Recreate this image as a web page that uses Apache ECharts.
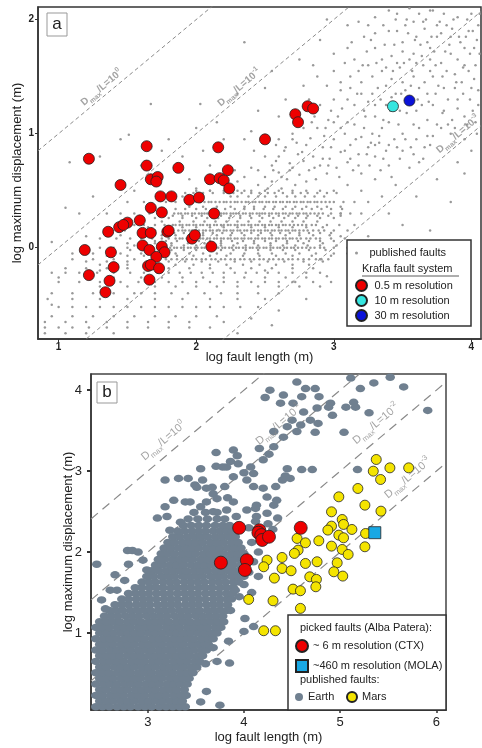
<!DOCTYPE html>
<html>
<head>
<meta charset="utf-8">
<script src="https://cdn.jsdelivr.net/npm/echarts@6/dist/echarts.min.js"></script>
<style>
  html, body { margin: 0; padding: 0; background: #fff; }
  #chart { width: 482px; height: 748px; }
</style>
</head>
<body>
<div id="chart"></div>
<script>
const FONT = "'Liberation Sans', Arial, Helvetica, sans-serif";

// ---- panel a: published faults (rounded displacements -> horizontal bands)
const bandY = [0.5, 0.48, 0.45, 0.4, 0.4, 0.36, 0.34, 0.3, 0.3, 0.28, 0.26, 0.23, 0.2, 0.2, 0.18, 0.15, 0.15, 0.13, 0.11, 0.08, 0.08, 0.06, 0.04, 0.02, 0, 0, -0.02, -0.05, -0.07, -0.1, -0.1, -0.12, -0.15, -0.18, -0.22, -0.26, -0.3, -0.34, -0.4, -0.45, -0.52, -0.6, -0.65, -0.7, -0.75];
const bandX = [
  [2.0, 2.1, 2.2, 2.3, 2.4, 2.5, 2.6, 2.7, 2.8, 2.9, 3.0],
  [1.92, 1.98, 2.05, 2.12, 2.2, 2.27, 2.33, 2.4, 2.46, 2.52, 2.57, 2.63, 2.7, 2.76, 2.81, 2.88, 2.95, 3.02],
  [2.3, 2.38, 2.45, 2.5, 2.58, 2.66, 2.72, 2.79, 2.86, 2.93],
  [1.5, 1.62, 1.78, 1.85, 1.93, 2.0, 2.06, 2.11, 2.17, 2.22, 2.28, 2.33, 2.38, 2.43, 2.48, 2.53, 2.58, 2.63, 2.68, 2.73, 2.78, 2.83, 2.88, 2.94, 3.0, 3.07, 3.15],
  [1.96, 2.03, 2.09, 2.14, 2.2, 2.25, 2.3, 2.36, 2.41, 2.46, 2.51, 2.56, 2.61, 2.66, 2.71, 2.76, 2.81, 2.86, 2.91, 2.97],
  [1.95, 2.05, 2.15, 2.25, 2.35, 2.42, 2.5, 2.57, 2.65, 2.72, 2.8, 2.88, 2.95, 3.05],
  [1.85, 1.92, 2.0, 2.07, 2.14, 2.21, 2.28, 2.35, 2.42, 2.49, 2.56, 2.63, 2.7, 2.77, 2.84, 2.91, 2.98, 3.06],
  [1.45, 1.55, 1.66, 1.72, 1.78, 1.84, 1.89, 1.94, 1.99, 2.04, 2.08, 2.13, 2.18, 2.22, 2.27, 2.31, 2.36, 2.41, 2.46, 2.5, 2.55, 2.6, 2.65, 2.7, 2.75, 2.8, 2.86, 2.92, 2.98, 3.05, 3.12, 3.2],
  [1.87, 1.92, 1.97, 2.02, 2.06, 2.11, 2.16, 2.2, 2.25, 2.29, 2.34, 2.39, 2.44, 2.48, 2.53, 2.58, 2.63, 2.68, 2.73, 2.78, 2.83, 2.89],
  [1.76, 1.83, 1.9, 1.97, 2.04, 2.11, 2.18, 2.25, 2.32, 2.39, 2.46, 2.53, 2.6, 2.67, 2.74, 2.81, 2.88, 2.96, 3.05],
  [1.7, 1.8, 1.9, 2.0, 2.08, 2.16, 2.24, 2.32, 2.4, 2.48, 2.56, 2.64, 2.72, 2.8, 2.9, 3.0],
  [1.6, 1.75, 1.88, 1.98, 2.06, 2.14, 2.22, 2.3, 2.38, 2.46, 2.54, 2.62, 2.7, 2.78, 2.88],
  [1.45, 1.55, 1.62, 1.7, 1.77, 1.83, 1.88, 1.93, 1.98, 2.03, 2.08, 2.13, 2.18, 2.23, 2.28, 2.33, 2.38, 2.43, 2.48, 2.53, 2.58, 2.63, 2.68, 2.74, 2.8, 2.87, 2.95, 3.04],
  [1.85, 1.9, 1.95, 2.0, 2.05, 2.1, 2.15, 2.2, 2.25, 2.3, 2.35, 2.4, 2.45, 2.5, 2.55, 2.6, 2.65, 2.71, 2.77, 2.84],
  [1.5, 1.65, 1.8, 1.9, 2.0, 2.1, 2.2, 2.3, 2.4, 2.5, 2.6, 2.7, 2.8, 2.92],
  [1.35, 1.48, 1.6, 1.7, 1.76, 1.82, 1.87, 1.92, 1.97, 2.02, 2.07, 2.12, 2.17, 2.22, 2.27, 2.32, 2.37, 2.42, 2.47, 2.52, 2.57, 2.62, 2.67, 2.72, 2.78, 2.85, 2.93, 3.0, 3.1],
  [1.9, 1.95, 2.0, 2.05, 2.1, 2.15, 2.2, 2.25, 2.3, 2.35, 2.4, 2.45, 2.5, 2.55, 2.6, 2.65, 2.7, 2.75, 2.81, 2.89],
  [1.7, 1.77, 1.84, 1.91, 1.98, 2.05, 2.12, 2.19, 2.26, 2.33, 2.4, 2.47, 2.54, 2.61, 2.68, 2.75, 2.82, 2.9, 2.98],
  [1.45, 1.62, 1.75, 1.85, 1.95, 2.05, 2.15, 2.25, 2.35, 2.45, 2.55, 2.65, 2.75, 2.85, 2.97],
  [1.3, 1.42, 1.52, 1.6, 1.68, 1.75, 1.8, 1.85, 1.9, 1.95, 2.0, 2.05, 2.1, 2.15, 2.2, 2.25, 2.3, 2.35, 2.4, 2.45, 2.5, 2.55, 2.6, 2.65, 2.7, 2.76, 2.83, 2.9, 2.98, 3.08],
  [1.88, 1.93, 1.98, 2.03, 2.08, 2.13, 2.18, 2.23, 2.28, 2.33, 2.38, 2.43, 2.48, 2.53, 2.58, 2.63, 2.68, 2.73, 2.8, 2.87],
  [1.62, 1.7, 1.78, 1.86, 1.94, 2.02, 2.1, 2.18, 2.26, 2.34, 2.42, 2.5, 2.58, 2.66, 2.74, 2.82, 2.9, 3.0],
  [1.5, 1.7, 1.82, 1.94, 2.06, 2.18, 2.3, 2.42, 2.54, 2.66, 2.78, 2.92],
  [1.55, 1.64, 1.73, 1.82, 1.91, 2.0, 2.09, 2.18, 2.27, 2.36, 2.45, 2.54, 2.63, 2.72, 2.81, 2.9, 3.02],
  [1.2, 1.3, 1.4, 1.5, 1.58, 1.65, 1.72, 1.78, 1.84, 1.89, 1.94, 1.99, 2.04, 2.09, 2.14, 2.19, 2.24, 2.29, 2.34, 2.39, 2.44, 2.49, 2.54, 2.59, 2.64, 2.69, 2.74, 2.8, 2.86, 2.93, 3.0, 3.1, 3.2],
  [1.81, 1.86, 1.91, 1.96, 2.01, 2.06, 2.11, 2.16, 2.21, 2.26, 2.31, 2.36, 2.41, 2.46, 2.51, 2.56, 2.61, 2.66, 2.71, 2.77, 2.83, 2.9],
  [1.4, 1.52, 1.63, 1.73, 1.82, 1.91, 2.0, 2.09, 2.18, 2.27, 2.36, 2.45, 2.54, 2.63, 2.72, 2.82, 2.94],
  [1.25, 1.45, 1.6, 1.75, 1.85, 1.95, 2.05, 2.15, 2.25, 2.35, 2.45, 2.55, 2.65, 2.75, 2.87, 3.0],
  [1.35, 1.5, 1.62, 1.74, 1.86, 1.98, 2.1, 2.22, 2.34, 2.46, 2.58, 2.7, 2.84, 2.98],
  [1.1, 1.25, 1.4, 1.55, 1.68, 1.78, 1.86, 1.93, 2.0, 2.07, 2.14, 2.21, 2.28, 2.35, 2.42, 2.49, 2.56, 2.63, 2.7, 2.78, 2.87, 2.96],
  [1.82, 1.9, 1.97, 2.04, 2.11, 2.18, 2.25, 2.32, 2.39, 2.46, 2.53, 2.6, 2.67, 2.74, 2.82, 2.91],
  [1.2, 1.35, 1.5, 1.65, 1.8, 1.92, 2.04, 2.16, 2.28, 2.4, 2.52, 2.64, 2.78, 2.92],
  [1.3, 1.5, 1.7, 1.85, 1.98, 2.1, 2.22, 2.34, 2.46, 2.58, 2.7, 2.82],
  [1.05, 1.2, 1.35, 1.5, 1.65, 1.8, 1.95, 2.1, 2.25, 2.4, 2.55, 2.7, 2.85],
  [0.95, 1.05, 1.15, 1.28, 1.4, 1.52, 1.62, 1.72, 1.8, 1.88, 1.96, 2.04, 2.12, 2.2, 2.28, 2.36, 2.44, 2.52, 2.6, 2.7, 2.8, 2.9],
  [1.0, 1.2, 1.4, 1.6, 1.75, 1.9, 2.05, 2.2, 2.35, 2.5, 2.65, 2.8],
  [1.15, 1.3, 1.45, 1.58, 1.7, 1.8, 1.9, 2.0, 2.1, 2.2, 2.3, 2.4, 2.5, 2.6, 2.72, 2.85, 2.98],
  [1.3, 1.5, 1.7, 1.85, 2.0, 2.15, 2.3, 2.45, 2.6, 2.75, 2.9],
  [0.95, 1.1, 1.25, 1.4, 1.55, 1.7, 1.82, 1.94, 2.06, 2.18, 2.3, 2.45, 2.6],
  [0.92, 1.1, 1.3, 1.5, 1.7, 1.9, 2.1, 2.3, 2.5],
  [1.0, 1.1, 1.2, 1.3, 1.4, 1.5, 1.6, 1.7, 1.8, 1.9, 2.0, 2.1, 2.2, 2.32, 2.45],
  [0.95, 1.1, 1.25, 1.4, 1.55, 1.7, 1.85, 2.0, 2.15],
  [0.9, 1.05, 1.2, 1.35, 1.5, 1.65, 1.8, 1.95],
  [0.9, 1.0, 1.1, 1.22, 1.35, 1.5, 1.65, 1.8, 1.95, 2.1],
  [0.9, 1.05, 1.2, 1.4]
];
const pubScatterA = [
  [2.45, 0.55], [2.5, 0.62], [2.55, 0.58], [2.6, 0.66], [2.62, 0.52], [2.66, 0.6], [2.7, 0.7], [2.72, 0.55], [2.75, 0.64], [2.78, 0.76],
  [2.8, 0.58], [2.82, 0.68], [2.85, 0.8], [2.87, 0.6], [2.9, 0.72], [2.92, 0.88], [2.95, 0.65], [2.97, 0.78], [3.0, 0.95], [3.02, 0.7],
  [3.05, 0.84], [3.08, 1.0], [3.1, 0.75], [3.12, 0.9], [3.15, 1.08], [3.18, 0.82], [3.2, 0.97], [2.55, 0.72], [2.6, 0.8], [2.65, 0.88],
  [2.68, 0.74], [2.73, 0.92], [2.77, 0.84], [2.83, 0.96], [2.88, 1.05], [2.93, 0.98], [2.96, 1.12], [3.03, 1.15], [3.06, 1.22], [3.1, 1.3],
  [2.5, 0.8], [2.58, 0.9], [2.7, 1.0], [2.78, 1.05], [2.86, 1.15], [2.6, 0.95], [2.9, 1.25], [3.0, 1.3], [2.4, 0.7], [2.35, 0.62],
  [2.42, 0.85], [2.3, 0.58], [3.25, 0.88], [3.28, 1.0], [3.3, 1.15], [3.22, 1.2], [3.35, 1.05], [3.33, 0.92], [3.38, 1.25], [3.4, 1.1],
  [3.45, 1.35], [3.48, 1.2], [3.5, 1.45], [3.55, 1.3], [3.58, 1.5], [3.6, 1.2], [3.62, 1.4], [3.65, 1.6], [3.68, 1.35], [3.7, 1.75],
  [3.72, 1.5], [3.75, 1.85], [3.78, 1.62], [3.8, 1.4], [3.82, 1.95], [3.85, 1.7], [3.88, 1.52], [3.9, 2.02], [3.92, 1.8], [3.95, 1.6],
  [3.98, 1.9], [4.0, 2.05], [4.02, 1.75], [4.05, 1.95], [3.2, 1.45], [3.25, 1.6], [3.3, 1.75], [3.35, 1.55], [3.4, 1.9], [3.42, 1.68],
  [3.45, 2.0], [3.5, 1.8], [3.52, 1.95], [3.55, 1.65], [3.6, 1.85], [3.62, 2.05], [3.65, 1.98], [3.68, 1.8], [3.72, 2.08], [3.75, 1.95],
  [3.8, 2.05], [3.12, 1.5], [3.05, 1.38], [3.15, 1.65], [3.28, 1.35], [3.38, 1.42], [3.48, 1.58], [3.58, 1.7], [3.7, 1.65], [3.85, 1.85],
  [3.95, 1.75], [3.3, 2.02], [3.4, 2.08], [3.55, 2.1], [3.22, 1.85], [3.1, 1.75], [3.0, 1.55], [2.95, 1.42], [3.18, 1.98], [3.2, 0.5],
  [3.3, 0.6], [3.4, 0.72], [3.5, 0.85], [3.55, 0.7], [3.6, 0.95], [3.7, 0.9], [3.75, 1.08], [3.8, 1.2], [3.85, 1.0], [3.9, 1.3],
  [3.95, 1.15], [4.0, 1.4], [4.05, 1.25], [3.45, 0.55], [3.35, 0.45], [3.25, 0.4], [3.65, 0.78], [3.62, 1.05], [3.5, 1.0], [3.4, 0.9],
  [3.3, 0.8], [3.72, 1.25], [3.88, 1.4], [3.98, 1.55], [4.03, 1.6], [3.6, 0.45], [3.75, 0.6], [3.9, 0.75], [4.0, 0.85], [3.5, 0.2],
  [3.85, 0.4], [3.95, 0.65], [3.7, 0.15], [3.4, 0.3], [3.15, 0.2], [3.25, 0.1], [3.05, 0.3], [2.0, 1.05], [2.15, 1.1], [2.3, 1.35],
  [2.55, 1.55], [2.75, 1.65], [2.9, 1.82], [2.65, 1.3], [2.45, 1.2], [2.35, 0.95], [2.2, 0.95], [2.05, 0.85], [2.1, 0.72], [1.95, 0.6],
  [1.9, 0.8], [2.4, 1.02], [2.6, 1.15], [2.78, 1.42], [2.85, 1.6], [2.7, 1.2], [3.0, 1.7], [2.95, 2.0], [3.1, 1.95], [2.5, 1.4],
  [1.45, 0.95], [1.8, 0.95], [1.3, 0.8], [1.15, 0.3], [1.05, 0.35], [1.2, 0.1], [1.35, 0.3], [1.1, -0.05], [0.95, 0.05], [1.25, 0.45],
  [1.55, 0.5], [1.6, 0.72], [1.75, 0.85], [1.9, 0.45], [2.0, 0.52], [2.1, 0.5], [2.2, 0.55], [2.25, 0.45], [2.15, 0.62], [2.35, 0.5],
  [2.28, 0.68], [2.45, 0.68], [2.5, -0.2], [2.7, -0.3], [2.9, -0.1], [3.05, 0.1], [3.1, -0.05], [2.95, -0.25], [2.8, -0.45], [2.6, -0.55],
  [2.4, -0.62], [3.15, -0.1], [2.2, -0.65], [1.6, -0.4], [1.3, -0.2], [1.0, -0.3], [0.95, -0.5], [2.3, -0.75], [2.55, -0.68], [2.35, 1.8],
  [1.67, 1.26], [2.03, 1.26], [1.51, 0.99], [1.08, 0.75], [3.1, 1.1], [3.15, 1.25], [3.2, 1.35], [3.25, 1.28], [3.28, 1.5], [3.32, 1.4],
  [3.35, 1.65], [3.38, 1.58], [3.42, 1.48], [3.44, 1.78], [3.46, 1.62], [3.5, 1.72], [3.52, 1.38], [3.54, 1.88], [3.57, 1.55], [3.6, 1.62],
  [3.63, 1.78], [3.66, 1.92], [3.66, 1.45], [3.7, 1.55], [3.73, 1.72], [3.76, 1.42], [3.78, 1.88], [3.82, 1.55], [3.84, 1.78], [3.87, 2.0],
  [3.9, 1.65], [3.93, 1.45], [3.96, 1.85], [3.99, 1.7], [4.02, 1.48], [4.04, 1.82], [4.06, 2.05], [3.3, 1.25], [3.36, 1.12], [3.42, 1.32],
  [3.47, 1.08], [3.53, 1.18], [3.58, 1.08], [3.64, 1.25], [3.68, 1.12], [3.74, 1.35], [3.79, 1.18], [3.83, 1.3], [3.86, 1.12], [3.9, 1.22],
  [3.94, 1.35], [3.97, 1.08], [4.01, 1.2], [4.05, 1.38], [3.16, 0.95], [3.22, 1.05], [3.27, 0.92], [3.33, 0.98], [3.38, 0.85], [3.44, 0.95],
  [3.48, 0.78], [3.56, 0.88], [3.62, 0.75], [3.68, 0.98], [3.2, 0.65], [3.26, 0.72], [3.34, 0.68], [3.42, 0.62], [3.1, 0.55], [3.14, 0.68],
  [3.08, 0.85], [3.05, 1.05], [2.98, 0.88], [2.92, 0.78], [3.12, 1.4], [3.18, 1.55], [3.24, 1.72], [3.3, 1.88], [3.36, 1.95], [3.46, 2.05],
  [3.58, 1.98], [3.7, 2.08], [3.25, 1.95], [2.88, 1.5], [2.82, 1.3], [2.76, 1.12], [2.7, 0.95], [2.64, 0.85], [2.58, 0.76],
  [3.05, 1.45], [3.08, 1.62], [3.13, 1.8], [3.17, 1.35], [3.21, 1.6], [3.23, 1.15], [3.27, 1.82], [3.31, 1.62], [3.34, 1.3], [3.37, 1.78],
  [3.41, 1.2], [3.43, 1.55], [3.46, 1.9], [3.49, 1.35], [3.51, 1.62], [3.53, 2.0], [3.56, 1.42], [3.59, 1.82], [3.61, 1.3], [3.64, 1.68],
  [3.67, 2.0], [3.69, 1.28], [3.71, 1.85], [3.74, 1.6], [3.77, 1.98], [3.79, 1.5], [3.81, 1.72], [3.83, 1.08], [3.86, 1.92], [3.89, 1.45],
  [3.91, 1.85], [3.94, 1.58], [3.97, 2.0], [3.99, 1.3], [4.01, 1.9], [4.03, 1.1], [4.06, 1.7], [2.98, 1.2], [2.94, 1.05], [3.0, 1.1],
  [2.84, 1.1], [2.8, 0.9], [2.74, 0.82], [2.68, 0.68], [2.62, 0.62], [2.56, 0.68], [2.52, 0.52], [2.86, 0.7], [2.96, 0.72], [3.04, 0.62],
  [3.12, 0.78], [3.18, 0.72], [3.24, 0.82], [3.3, 0.9], [3.36, 0.78], [3.46, 0.88], [3.52, 0.95], [3.58, 0.82], [3.66, 0.88], [3.72, 0.98],
  [3.78, 1.05], [3.88, 1.05], [3.95, 0.95], [4.04, 1.0]
];
const krafla05 = [
  [1.22, 0.78], [1.64, 0.89], [1.45, 0.55], [1.64, 0.72], [1.67, 0.6], [1.72, 0.62], [1.71, 0.58], [1.87, 0.7],
  [2.16, 0.88], [2.1, 0.6], [2.17, 0.61], [2.2, 0.59], [2.23, 0.68], [2.24, 0.52], [1.74, 0.45], [1.82, 0.45],
  [1.95, 0.42], [2.02, 0.44], [1.67, 0.35], [1.75, 0.31], [2.13, 0.3], [1.59, 0.24], [1.5, 0.22], [1.44, 0.18],
  [1.47, 0.2], [1.36, 0.14], [1.61, 0.13], [1.67, 0.13], [1.79, 0.14], [1.8, 0.15], [1.97, 0.08], [1.99, 0.11],
  [2.11, 0.01], [1.61, 0.02], [1.75, 0.01], [1.77, -0.04], [1.66, -0.02], [1.71, -0.08], [1.19, -0.02], [1.38, -0.04],
  [1.4, -0.17], [1.65, -0.16], [1.67, -0.15], [1.73, -0.18], [1.22, -0.24], [1.37, -0.29], [1.66, -0.28], [1.34, -0.39],
  [2.5, 0.95], [2.72, 1.17], [2.74, 1.1], [2.81, 1.24], [2.85, 1.22]
];
const krafla10 = [[3.43, 1.24]];
const krafla30 = [[3.55, 1.29]];

// ---- panel b: Earth faults (dense cloud read row by row) and Mars / Alba Patera
const earthRowY = [0.09, 0.16, 0.23, 0.3, 0.37, 0.44, 0.51, 0.58, 0.65, 0.72, 0.79, 0.86, 0.93, 1.0, 1.07, 1.14, 1.21, 1.28, 1.35, 1.42, 1.49, 1.56, 1.63, 1.7, 1.77, 1.84, 1.91, 1.98, 2.05, 2.12, 2.19, 2.26, 2.33, 2.41, 2.49];
const earthRowX = [
  [2.46, 2.53, 2.6, 2.68, 2.75, 2.82, 2.9, 2.97, 3.04, 3.12, 3.19, 3.26, 3.33, 3.39],
  [2.5, 2.57, 2.64, 2.72, 2.79, 2.86, 2.94, 3.01, 3.08, 3.15, 3.23, 3.3, 3.36],
  [2.46, 2.53, 2.61, 2.68, 2.75, 2.83, 2.9, 2.97, 3.05, 3.12, 3.19, 3.27, 3.34, 3.4],
  [2.5, 2.57, 2.65, 2.72, 2.79, 2.87, 2.94, 3.01, 3.08, 3.16, 3.23, 3.3, 3.38],
  [2.46, 2.54, 2.61, 2.68, 2.76, 2.83, 2.9, 2.98, 3.05, 3.12, 3.2, 3.27, 3.34, 3.41],
  [2.5, 2.57, 2.64, 2.72, 2.79, 2.86, 2.93, 3.01, 3.08, 3.15, 3.23, 3.3, 3.37, 3.43],
  [2.46, 2.53, 2.6, 2.68, 2.75, 2.82, 2.9, 2.97, 3.04, 3.12, 3.19, 3.26, 3.34, 3.41, 3.47],
  [2.5, 2.57, 2.65, 2.72, 2.79, 2.86, 2.94, 3.01, 3.08, 3.16, 3.23, 3.3, 3.37, 3.45, 3.51],
  [2.46, 2.54, 2.61, 2.68, 2.75, 2.83, 2.9, 2.97, 3.05, 3.12, 3.19, 3.27, 3.34, 3.41, 3.49, 3.54],
  [2.5, 2.57, 2.64, 2.71, 2.79, 2.86, 2.93, 3.01, 3.08, 3.15, 3.23, 3.3, 3.37, 3.44, 3.52, 3.57],
  [2.46, 2.53, 2.61, 2.68, 2.75, 2.82, 2.9, 2.97, 3.04, 3.12, 3.19, 3.26, 3.34, 3.41, 3.48, 3.56, 3.61],
  [2.5, 2.57, 2.64, 2.72, 2.79, 2.86, 2.94, 3.01, 3.08, 3.15, 3.23, 3.3, 3.37, 3.45, 3.52, 3.59, 3.63],
  [2.46, 2.54, 2.61, 2.68, 2.76, 2.83, 2.9, 2.97, 3.05, 3.12, 3.19, 3.27, 3.34, 3.41, 3.48, 3.56, 3.63, 3.68],
  [2.5, 2.57, 2.64, 2.72, 2.79, 2.86, 2.93, 3.01, 3.08, 3.15, 3.23, 3.3, 3.37, 3.44, 3.52, 3.59, 3.66, 3.72],
  [2.46, 2.53, 2.6, 2.68, 2.75, 2.82, 2.9, 2.97, 3.04, 3.11, 3.19, 3.26, 3.33, 3.41, 3.48, 3.55, 3.62, 3.7, 3.76],
  [2.5, 2.57, 2.64, 2.71, 2.79, 2.86, 2.93, 3.01, 3.08, 3.15, 3.22, 3.3, 3.37, 3.44, 3.52, 3.59, 3.66, 3.73, 3.79],
  [2.55, 2.62, 2.69, 2.77, 2.84, 2.91, 2.99, 3.06, 3.13, 3.2, 3.28, 3.35, 3.42, 3.5, 3.57, 3.64, 3.71, 3.78],
  [2.6, 2.67, 2.74, 2.82, 2.89, 2.96, 3.03, 3.11, 3.18, 3.25, 3.33, 3.4, 3.47, 3.54, 3.62, 3.69, 3.76, 3.82],
  [2.66, 2.73, 2.8, 2.88, 2.95, 3.02, 3.1, 3.17, 3.24, 3.31, 3.39, 3.46, 3.53, 3.61, 3.68, 3.75, 3.83],
  [2.73, 2.8, 2.88, 2.95, 3.02, 3.09, 3.17, 3.24, 3.31, 3.39, 3.46, 3.53, 3.6, 3.68, 3.75, 3.82, 3.87],
  [2.8, 2.87, 2.94, 3.01, 3.09, 3.16, 3.23, 3.31, 3.38, 3.45, 3.52, 3.6, 3.67, 3.74, 3.82, 3.88],
  [2.87, 2.94, 3.02, 3.09, 3.16, 3.24, 3.31, 3.38, 3.45, 3.53, 3.6, 3.67, 3.75, 3.82, 3.89],
  [2.94, 3.01, 3.08, 3.16, 3.23, 3.3, 3.38, 3.45, 3.52, 3.59, 3.67, 3.74, 3.81, 3.89, 3.95],
  [2.99, 3.06, 3.14, 3.21, 3.28, 3.36, 3.43, 3.5, 3.57, 3.65, 3.72, 3.79, 3.87, 3.94, 4.0],
  [3.04, 3.11, 3.19, 3.26, 3.33, 3.4, 3.48, 3.55, 3.62, 3.7, 3.77, 3.84, 3.91, 3.99],
  [3.08, 3.15, 3.23, 3.3, 3.37, 3.45, 3.52, 3.59, 3.66, 3.74, 3.81, 3.88, 3.96],
  [3.11, 3.18, 3.26, 3.33, 3.4, 3.47, 3.55, 3.62, 3.69, 3.77, 3.84, 3.91, 3.98, 4.04],
  [3.14, 3.21, 3.28, 3.36, 3.43, 3.5, 3.58, 3.65, 3.72, 3.79, 3.87, 3.94, 4.0],
  [3.17, 3.24, 3.32, 3.39, 3.46, 3.53, 3.61, 3.68, 3.75, 3.83, 3.9, 3.97],
  [3.21, 3.28, 3.36, 3.43, 3.5, 3.57, 3.65, 3.72, 3.79, 3.87, 3.94],
  [3.26, 3.33, 3.41, 3.48, 3.55, 3.62, 3.7, 3.77, 3.84, 3.91],
  [3.31, 3.38, 3.46, 3.53, 3.6, 3.68, 3.75, 3.82, 3.88],
  [3.37, 3.45, 3.53, 3.61, 3.7, 3.78, 3.85],
  [3.42, 3.52, 3.62, 3.72, 3.8],
  [3.48, 3.6, 3.72]
];
const earthScatter = [
  [4.55, 4.1], [4.64, 4.02], [4.74, 4.02], [5.11, 4.15], [5.21, 4.02], [5.35, 4.09], [5.52, 4.16], [5.66, 4.04], [5.91, 3.75], [5.3, 3.72],
  [5.14, 3.85], [5.06, 3.79], [4.9, 3.84], [4.76, 3.78], [4.62, 3.73], [4.69, 3.63], [4.77, 3.59], [4.59, 3.57], [5.04, 3.48], [4.74, 3.48],
  [4.22, 3.91], [4.27, 4.0], [4.38, 3.84], [4.41, 3.94], [4.51, 3.84], [4.6, 3.92], [4.78, 3.92], [4.5, 3.63], [4.45, 3.55], [4.55, 3.49],
  [4.88, 3.79], [4.92, 3.69], [5.16, 3.79], [4.31, 3.49], [4.41, 3.42],
  [3.71, 3.23], [3.89, 3.26], [3.93, 3.19], [3.86, 3.12], [3.94, 3.09], [4.16, 3.28], [4.2, 3.14], [4.26, 3.21], [4.31, 3.3], [4.45, 3.03],
  [4.6, 3.02], [4.71, 3.02], [5.18, 3.02], [4.43, 2.94], [4.1, 2.97], [3.71, 3.06], [3.82, 3.05], [3.55, 3.03], [3.42, 2.91], [3.32, 2.91],
  [3.18, 2.89], [3.49, 2.83], [3.61, 2.79], [3.68, 2.72], [3.8, 2.81], [3.89, 2.93], [4.03, 2.89], [4.1, 2.81], [4.2, 2.79], [4.33, 2.81],
  [4.4, 2.89], [4.48, 2.91], [4.24, 2.68], [4.34, 2.64], [4.13, 2.58], [4.31, 2.58], [3.89, 2.62], [3.72, 2.66], [3.61, 2.62], [3.39, 2.62],
  [3.27, 2.64], [3.55, 2.56], [3.68, 2.5], [3.82, 2.52], [4.03, 2.52], [4.13, 2.44], [4.24, 2.48], [3.92, 2.44], [3.18, 2.56], [3.2, 2.44],
  [3.34, 2.37], [4.0, 2.98], [4.07, 3.05], [3.78, 3.05], [3.51, 2.8], [3.57, 2.89], [3.67, 2.8], [3.83, 2.67], [3.44, 2.62], [4.12, 2.54],
  [4.05, 2.3], [4.12, 2.38], [4.25, 2.35], [4.3, 2.28], [4.35, 2.42], [4.08, 2.12], [4.15, 2.0], [4.1, 1.88], [4.05, 1.75], [4.15, 1.7],
  [4.0, 1.6], [4.08, 1.5], [3.95, 1.45],
  [3.85, 0.63], [3.72, 0.65], [3.61, 0.28], [3.75, 0.11], [4.0, 1.02], [4.1, 1.08], [3.91, 1.53], [3.86, 1.28], [4.01, 1.18], [3.6, 0.62],
  [3.84, 0.9], [3.55, 0.15], [3.68, 0.82],
  [2.47, 1.85], [2.79, 2.02], [2.84, 2.02], [2.61, 1.53], [2.68, 1.53], [2.76, 1.65], [2.52, 1.41], [2.99, 1.78], [3.13, 1.9], [3.1, 2.42],
  [3.23, 2.27], [2.56, 1.3], [2.8, 1.85], [2.95, 1.9], [2.66, 1.72], [2.9, 2.0]
];
const marsFaults = [
  [5.375, 3.144], [5.344, 3.0], [5.517, 3.041], [5.712, 3.041], [5.42, 2.897], [5.184, 2.786], [4.986, 2.683], [5.257, 2.58],
  [4.91, 2.498], [5.424, 2.506], [5.021, 2.403], [4.91, 2.321], [5.035, 2.342], [5.122, 2.28], [4.872, 2.272], [4.986, 2.21],
  [5.035, 2.177], [5.264, 2.23], [4.552, 2.169], [4.639, 2.115], [4.778, 2.14], [4.91, 2.074], [5.021, 2.033], [5.083, 1.971],
  [5.257, 2.066], [4.563, 2.025], [4.524, 1.984], [4.396, 1.934], [4.24, 1.901], [4.205, 1.819], [4.396, 1.798], [4.49, 1.77],
  [4.639, 1.86], [4.76, 1.881], [4.969, 1.868], [4.934, 1.757], [5.027, 1.704], [4.316, 1.679], [4.684, 1.695], [4.753, 1.663],
  [4.747, 1.572], [4.51, 1.543], [4.587, 1.523], [4.049, 1.416], [4.302, 1.399], [4.587, 1.305], [4.205, 1.029], [4.327, 1.029]
];
const ctxFaults = [[3.95, 2.3], [4.16, 2.27], [4.15, 2.24], [4.18, 2.21], [4.19, 2.15], [4.26, 2.19], [4.59, 2.3], [3.76, 1.87], [4.03, 1.9], [4.01, 1.78]];
const molaFaults = [[5.36, 2.24]];

// Dmax/L = 10^k reference lines, label anchors [x, k]
const ratioExp = [0, -1, -2, -3];
const labelPosA = [[1.35, 0], [2.35, -1], [3.94, -3]];
const labelPosB = [[3.25, 0], [4.45, -1], [5.46, -2], [5.79, -3]];

const ticksAx = [1, 2, 3, 4];
const ticksAy = [0, 1, 2];
const ticksBx = [3, 4, 5, 6];
const ticksBy = [1, 2, 3, 4];

function rowsToPoints(ys, xs) {
  const out = [];
  ys.forEach((y, i) => xs[i].forEach((x) => out.push([x, y])));
  return out;
}

function ratioLines(idx, xMin, xMax, dash, width) {
  return ratioExp.map((k) => ({
    type: "line",
    xAxisIndex: idx,
    yAxisIndex: idx,
    data: [[xMin, xMin + k], [xMax, xMax + k]],
    symbol: "none",
    silent: true,
    z: 1,
    lineStyle: { color: "#8a8a8a", width, type: dash },
  }));
}

function ratioLabels(idx, positions, size, bold, dist) {
  const base = { color: "#8c8c8c", fontWeight: bold ? "bold" : "normal", fontFamily: FONT };
  return {
    type: "scatter",
    xAxisIndex: idx,
    yAxisIndex: idx,
    data: positions.map(([x, k]) => ({ value: [x, x + k], exp: k })),
    symbolSize: 1,
    itemStyle: { color: "rgba(0,0,0,0)" },
    silent: true,
    z: 6,
    label: {
      show: true,
      position: "inside",
      rotate: 40,
      offset: [0, -dist],
      formatter: (p) => `{t|D}{s|max}{t|/L=10}{p|${p.data.exp}}`,
      rich: {
        t: { ...base, fontSize: size, lineHeight: size + 5 },
        s: { ...base, fontSize: size * 0.68, lineHeight: size * 0.7, verticalAlign: "bottom" },
        p: { ...base, fontSize: size * 0.68, lineHeight: size * 0.7, verticalAlign: "top" },
      },
    },
  };
}

function valueAxis(idx, min, max, ticks, opts) {
  return {
    type: "value",
    gridIndex: idx,
    min,
    max,
    splitLine: { show: false },
    axisLine: { show: true, onZero: false, lineStyle: { color: "#333", width: 1.5 } },
    axisTick: { show: true, length: opts.tickLen, customValues: ticks, lineStyle: { color: "#333", width: opts.tickWidth } },
    axisLabel: {
      customValues: ticks,
      fontSize: opts.labelSize,
      fontWeight: opts.labelWeight,
      color: "#222",
      margin: opts.margin,
      fontFamily: FONT,
    },
    name: opts.name,
    nameLocation: "middle",
    nameGap: opts.nameGap,
    nameRotate: opts.nameRotate,
    nameMoveOverlap: false,
    nameTextStyle: { fontSize: 13, color: "#222", fontFamily: FONT },
  };
}

const chart = echarts.init(document.getElementById("chart"), null, { renderer: "canvas" });

const legendText = { fontSize: 11, color: "#222", fontFamily: FONT, lineHeight: 12 };

function pointStyle(color, border) {
  return border
    ? { color, opacity: 1, borderColor: "#222", borderWidth: 0.8 }
    : { color, opacity: 1 };
}

chart.setOption({
  animation: false,
  textStyle: { fontFamily: FONT },
  grid: [
    { left: 38, top: 7, width: 443, height: 332, show: true, borderColor: "#333", borderWidth: 1.5, outerBoundsMode: "none" },
    { left: 91, top: 374, width: 355, height: 336, show: true, borderColor: "#444", borderWidth: 1.5, outerBoundsMode: "none" },
  ],
  xAxis: [
    valueAxis(0, 0.85, 4.07, ticksAx, { tickLen: 3, tickWidth: 1, labelSize: 10, labelWeight: "bold", margin: 3, name: "log fault length (m)", nameGap: 12 }),
    valueAxis(1, 2.41, 6.1, ticksBx, { tickLen: 3, tickWidth: 1.5, labelSize: 13, labelWeight: "normal", margin: 6, name: "log fault length (m)", nameGap: 21 }),
  ],
  yAxis: [
    valueAxis(0, -0.8, 2.11, ticksAy, { tickLen: 3, tickWidth: 1, labelSize: 10, labelWeight: "bold", margin: 4, name: "log maximum displacement (m)", nameGap: 14, nameRotate: 90 }),
    valueAxis(1, 0.05, 4.2, ticksBy, { tickLen: 4, tickWidth: 2, labelSize: 13, labelWeight: "normal", margin: 9, name: "log maximum displacement (m)", nameGap: 16, nameRotate: 90 }),
  ],
  legend: [
    {
      data: [{ name: "published faults", icon: "circle" }],
      left: 355, top: 247, orient: "vertical", padding: 0,
      itemWidth: 16, itemHeight: 3, selectedMode: false, textStyle: legendText,
    },
    {
      data: ["0.5 m resolution", "10 m resolution", "30 m resolution"],
      left: 355, top: 279, orient: "vertical", padding: 0, itemGap: 2,
      itemWidth: 16, itemHeight: 11, selectedMode: false, textStyle: legendText,
    },
    {
      data: ["~ 6 m resolution (CTX)", "~460 m resolution (MOLA)"],
      left: 295, top: 639, orient: "vertical", padding: 0, itemGap: 6,
      itemWidth: 12, itemHeight: 12, selectedMode: false, textStyle: legendText,
    },
    {
      data: [{ name: "Earth", icon: "circle" }],
      left: 295, top: 691, padding: 0,
      itemWidth: 8, itemHeight: 8, selectedMode: false, textStyle: legendText,
    },
    {
      data: ["Mars"],
      left: 346, top: 691, padding: 0,
      itemWidth: 10, itemHeight: 10, selectedMode: false, textStyle: legendText,
    },
  ],
  graphic: [
    { type: "rect", z: 3, shape: { x: 347, y: 240, width: 124, height: 86 }, style: { fill: "#fff", stroke: "#333", lineWidth: 1.5 } },
    { type: "text", z: 5, x: 362, y: 269, style: { text: "Krafla fault system", fontSize: 11, fill: "#222", fontFamily: FONT, verticalAlign: "middle" } },
    { type: "line", z: 5, shape: { x1: 362, y1: 276, x2: 459, y2: 276 }, style: { stroke: "#333", lineWidth: 0.8 } },
    { type: "rect", z: 3, shape: { x: 288, y: 615, width: 158, height: 95 }, style: { fill: "#fff", stroke: "#333", lineWidth: 1.5 } },
    { type: "text", z: 5, x: 300, y: 628, style: { text: "picked faults (Alba Patera):", fontSize: 11, fill: "#222", fontFamily: FONT, verticalAlign: "middle" } },
    { type: "text", z: 5, x: 300, y: 680, style: { text: "published faults:", fontSize: 11, fill: "#222", fontFamily: FONT, verticalAlign: "middle" } },
    { type: "rect", z: 5, shape: { x: 47, y: 13, width: 20, height: 23 }, style: { fill: "#fff", stroke: "#999", lineWidth: 1 } },
    { type: "text", z: 6, x: 57, y: 24.5, style: { text: "a", fontSize: 17, fill: "#222", fontFamily: FONT, align: "center", verticalAlign: "middle" } },
    { type: "rect", z: 5, shape: { x: 97, y: 382, width: 20, height: 21 }, style: { fill: "#fff", stroke: "#999", lineWidth: 1 } },
    { type: "text", z: 6, x: 107, y: 392.5, style: { text: "b", fontSize: 17, fill: "#222", fontFamily: FONT, align: "center", verticalAlign: "middle" } },
  ],
  series: [
    ...ratioLines(0, 0.85, 4.07, [4, 3], 1),
    ...ratioLines(1, 2.41, 6.1, [9, 6], 1.2),
    {
      name: "published faults",
      type: "scatter",
      xAxisIndex: 0, yAxisIndex: 0,
      data: rowsToPoints(bandY, bandX).concat(pubScatterA),
      symbolSize: 2.5,
      itemStyle: pointStyle("#999999", false),
      z: 2,
    },
    {
      name: "0.5 m resolution", type: "scatter", xAxisIndex: 0, yAxisIndex: 0, data: krafla05,
      symbolSize: 11, itemStyle: pointStyle("#ee0000", true), z: 3,
    },
    {
      name: "10 m resolution", type: "scatter", xAxisIndex: 0, yAxisIndex: 0, data: krafla10,
      symbolSize: 11, itemStyle: pointStyle("#36e6e0", true), z: 3,
    },
    {
      name: "30 m resolution", type: "scatter", xAxisIndex: 0, yAxisIndex: 0, data: krafla30,
      symbolSize: 11, itemStyle: pointStyle("#0b12d8", true), z: 3,
    },
    {
      name: "Earth", type: "scatter", xAxisIndex: 1, yAxisIndex: 1,
      data: rowsToPoints(earthRowY, earthRowX).concat(earthScatter),
      symbolSize: [9.5, 7.5], itemStyle: pointStyle("#708090", false), z: 2,
    },
    {
      name: "Mars", type: "scatter", xAxisIndex: 1, yAxisIndex: 1, data: marsFaults,
      symbolSize: 10, itemStyle: pointStyle("#f4e400", true), z: 3,
    },
    {
      name: "~ 6 m resolution (CTX)", type: "scatter", xAxisIndex: 1, yAxisIndex: 1, data: ctxFaults,
      symbolSize: 13, itemStyle: pointStyle("#ee0000", true), z: 4,
    },
    {
      name: "~460 m resolution (MOLA)", type: "scatter", xAxisIndex: 1, yAxisIndex: 1, data: molaFaults,
      symbol: "rect", symbolSize: 12, itemStyle: pointStyle("#19a8e4", true), z: 4,
    },
    ratioLabels(0, labelPosA, 10, true, 8),
    ratioLabels(1, labelPosB, 11, false, 13),
  ],
});
</script>
</body>
</html>
